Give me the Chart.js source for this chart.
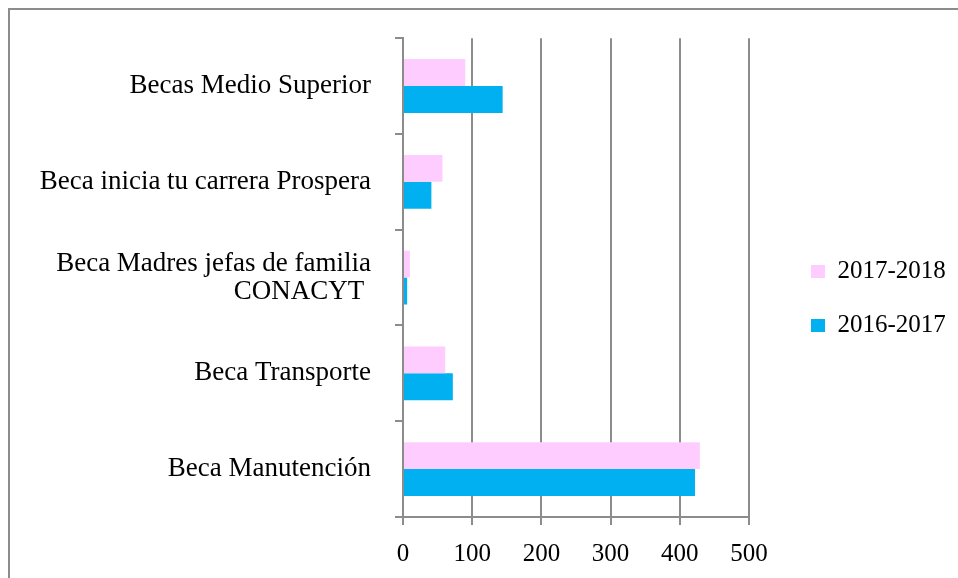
<!DOCTYPE html>
<html>
<head>
<meta charset="utf-8">
<script src="https://cdn.jsdelivr.net/npm/chart.js@4"></script>
<style>
  html, body { margin: 0; padding: 0; background: #fff; }
  #cadre {
    position: absolute; left: 0; top: 0; width: 958px; height: 578px; overflow: hidden;
  }
  #bordure {
    position: absolute; left: 8px; top: 8px; width: 2000px; height: 2000px;
    border-left: 2px solid #8c8c8c; border-top: 2px solid #8c8c8c;
  }
  #zone { position: absolute; left: 0; top: 0; width: 958px; height: 578px; }
</style>
</head>
<body>
<div id="cadre">
  <div id="bordure"></div>
  <div id="zone"><canvas id="becas-chart"></canvas></div>
</div>
<script>
// Catégories (de haut en bas)
const categories = [
  'Becas Medio Superior',
  'Beca inicia tu carrera Prospera',
  ['Beca Madres jefas de familia', 'CONACYT '],
  'Beca Transporte',
  'Beca Manutención',
];

// Valeurs des deux séries
const valeurs20172018 = [90, 57, 10, 61, 429];
const valeurs20162017 = [144, 41, 6, 72, 422];

// Axe des valeurs
const axeMin = 0;
const axeMax = 500;
const axePas = 100;

const police = "'Liberation Serif', 'DejaVu Serif', serif";
const gris = '#8c8c8c';

// Place réservée à la légende à droite, puis petit décalage de la légende
const largeurLegende = 209;
const decalageLegendeX = 33;
const decalageLegendeY = -4;

const ajusteLegende = {
  id: 'ajusteLegende',
  beforeLayout(chart) {
    const legende = chart.legend;
    if (!legende || legende.fitOrigine) return;
    legende.fitOrigine = legende.fit;
    legende.fit = function () {
      this.fitOrigine();
      this.width = largeurLegende;
    };
  },
  afterLayout(chart) {
    const legende = chart.legend;
    legende.left += decalageLegendeX;
    legende.right += decalageLegendeX;
    legende.top += decalageLegendeY;
    legende.bottom += decalageLegendeY;
  },
};

const canvas = document.getElementById('becas-chart');

const becasChart = new Chart(canvas, {
  type: 'bar',
  data: {
    labels: categories,
    datasets: [
      {
        label: '2017-2018',
        data: valeurs20172018,
        backgroundColor: '#ffccff',
        borderWidth: 0,
      },
      {
        label: '2016-2017',
        data: valeurs20162017,
        backgroundColor: '#00b0f0',
        borderWidth: 0,
      },
    ],
  },
  plugins: [ajusteLegende],
  options: {
    indexAxis: 'y',
    responsive: true,
    maintainAspectRatio: false,
    animation: false,
    categoryPercentage: 0.5625,
    barPercentage: 1,
    layout: {
      padding: { left: 10, top: 37, right: 0, bottom: 10 },
    },
    plugins: {
      tooltip: { enabled: false },
      legend: {
        position: 'right',
        align: 'center',
        labels: {
          color: '#000',
          font: { family: police, size: 25 },
          boxWidth: 14,
          boxHeight: 13,
          padding: 29,
        },
      },
    },
    scales: {
      x: {
        min: axeMin,
        max: axeMax,
        ticks: {
          stepSize: axePas,
          color: '#000',
          font: { family: police, size: 25 },
          padding: 14,
        },
        grid: {
          color: gris,
          lineWidth: 2,
          tickLength: 8,
          tickColor: gris,
        },
        border: { color: gris, width: 2 },
        afterFit: (scale) => { scale.height = 51; },
      },
      y: {
        ticks: {
          color: '#000',
          font: { family: police, size: 27, lineHeight: 1.05 },
          padding: 24,
        },
        grid: {
          drawOnChartArea: false,
          tickLength: 8,
          tickColor: gris,
          lineWidth: 2,
        },
        border: { color: gris, width: 2 },
        afterFit: (scale) => { scale.width = 393; },
      },
    },
  },
});
</script>
</body>
</html>
